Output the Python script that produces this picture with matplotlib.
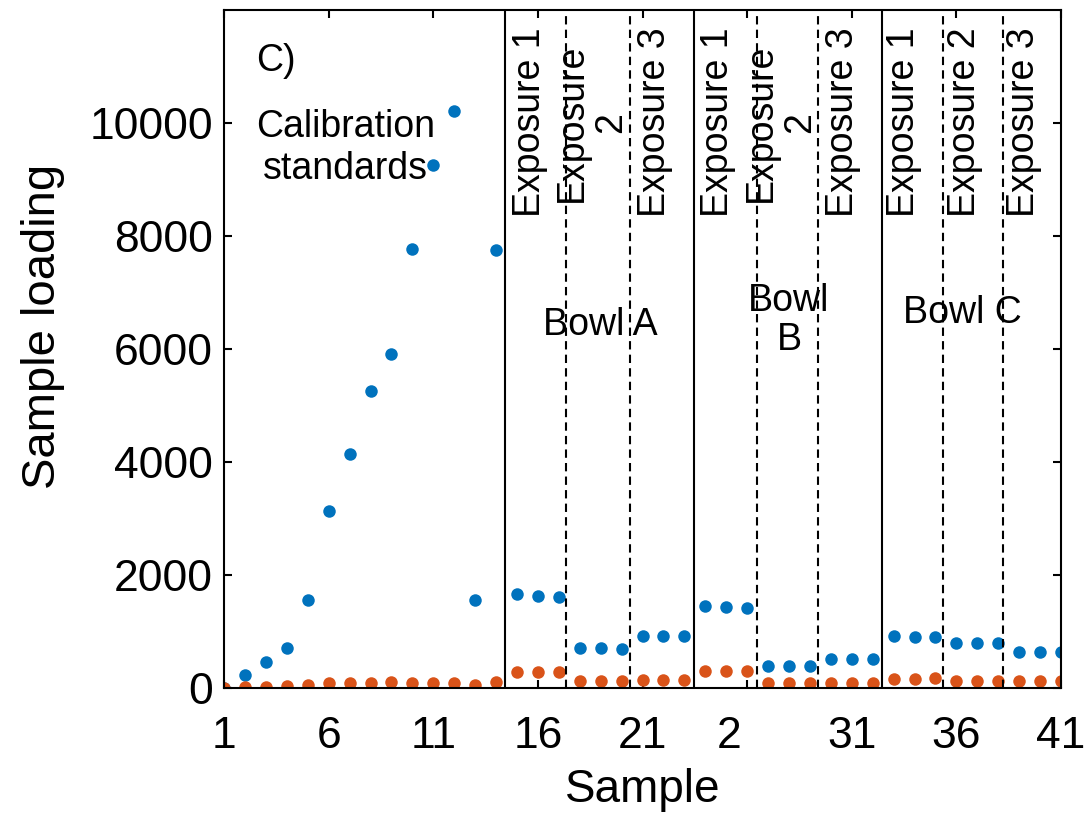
import numpy as np
import matplotlib
matplotlib.use("Agg")
import matplotlib.pyplot as plt
from matplotlib.transforms import ScaledTranslation

plt.rcParams.update({
    "font.family": ["Liberation Sans", "DejaVu Sans"],
    "font.size": 32,
    "axes.linewidth": 1.5,
    "xtick.direction": "in",
    "ytick.direction": "in",
    "xtick.major.size": 6,
    "ytick.major.size": 6,
    "xtick.major.width": 1.5,
    "ytick.major.width": 1.5,
})

BLUE = "#0072BD"
ORANGE = "#D95319"

# sample loading per sample (1..41)
sample = np.arange(1, 42)
loading_a = [0, 230, 460, 710, 1570, 3140, 4140, 5265, 5915, 7765, 9250, 10210, 1560, 7750,
             1665, 1640, 1610, 705, 705, 700, 930, 925, 925,
             1455, 1440, 1425, 400, 400, 395, 515, 515, 512,
             930, 915, 905, 800, 800, 795, 650, 645, 645]
loading_b = [10, 18, 25, 35, 64, 95, 100, 100, 105, 95, 95, 95, 55, 110,
             285, 290, 295, 120, 120, 120, 150, 150, 150,
             310, 310, 310, 90, 90, 88, 100, 100, 100,
             172, 172, 175, 135, 135, 135, 125, 125, 125]

xtick_pos = [1, 6, 11, 16, 21, 26, 31, 36, 41]
xtick_lbl = ["1", "6", "11", "16", "21", "2", "31", "36", "41"]
ytick_pos = [0, 2000, 4000, 6000, 8000, 10000]

# bowl boundaries (solid) and exposure boundaries (dashed)
bowl_edges = [14.45, 23.45, 32.45]
exposure_edges = [17.35, 20.4, 26.45, 29.4, 35.35, 38.25]

exposure_x = [15.6, 18.55, 21.6, 24.6, 27.6, 30.6, 33.5, 36.4, 39.25]
exposure_txt = ["Exposure 1", "Exposure\n2", "Exposure 3",
                "Exposure 1", "Exposure\n2", "Exposure 3",
                "Exposure 1", "Exposure 2", "Exposure 3"]
bowl_x = [19.0, 28.0, 36.3]
bowl_y = [6420, 6510, 6630]
bowl_txt = ["Bowl A", "Bowl\nB", "Bowl C"]

fig = plt.figure(figsize=(10.87, 8.22), dpi=100)
ax = fig.add_axes([0.2061, 0.1627, 0.7700, 0.8252])

ax.plot(sample, loading_a, "o", color=BLUE, markersize=9, markeredgewidth=0)
ax.plot(sample, loading_b, "o", color=ORANGE, markersize=9, markeredgewidth=0)

for xv in bowl_edges:
    ax.axvline(xv, color="black", lw=1.5)
for xv in exposure_edges:
    ax.axvline(xv, color="black", lw=1.5, ls=(0, (4, 2.5)))

ax.set_xlim(1, 41)
ax.set_ylim(0, 12000)
ax.set_xticks(xtick_pos)
ax.set_xticklabels(xtick_lbl)
ax.set_yticks(ytick_pos)
ax.tick_params(axis="both", labelsize=32, top=True, right=True)
ax.tick_params(axis="x", pad=20)
ax.tick_params(axis="y", pad=8)

ax.set_xlabel("Sample", fontsize=33, labelpad=8)
ax.set_ylabel("Sample loading", fontsize=34)
ax.yaxis.set_label_coords(-0.19, 0.534)

ax.text(2.55, 11090, "C)", fontsize=27, ha="left", va="center")
ax.text(6.8, 9560, "Calibration\nstandards", fontsize=27, ha="center", va="center",
        multialignment="center", linespacing=1.2)

for xv, s in zip(exposure_x, exposure_txt):
    ax.text(xv, 10010, s, fontsize=27, rotation=90, ha="center", va="center",
            multialignment="center", linespacing=1.1)
for xv, yv, s in zip(bowl_x, bowl_y, bowl_txt):
    ax.text(xv, yv, s, fontsize=27, ha="center", va="center",
            multialignment="center", linespacing=1.1)

# shift the lone "2" label left so it sits where the first digit of 26 would be
shift = ScaledTranslation(-18 / 100, 0, fig.dpi_scale_trans)
for lbl in ax.get_xticklabels():
    if lbl.get_text() == "2":
        lbl.set_transform(lbl.get_transform() + shift)

fig.savefig("out.png", dpi=100)
